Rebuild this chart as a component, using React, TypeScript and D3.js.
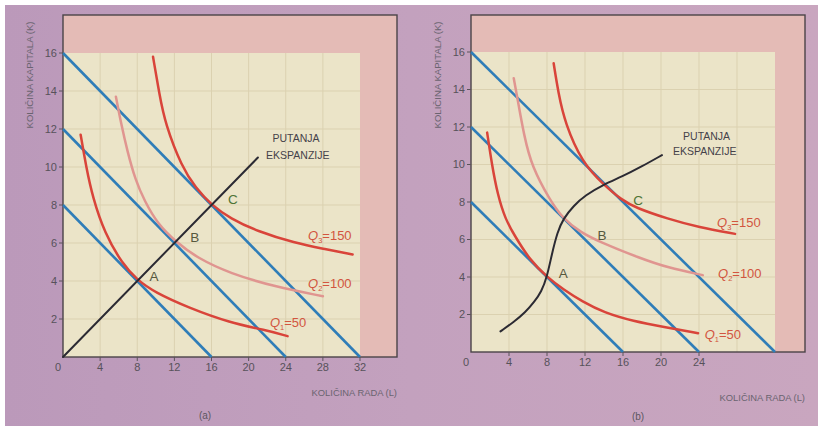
import React from 'react';
import * as d3 from 'd3';

// ---- data ----
const yTicks = [2, 4, 6, 8, 10, 12, 14, 16];
const xTicksA = [0, 4, 8, 12, 16, 20, 24, 28, 32];
const xTicksB = [0, 4, 8, 12, 16, 20, 24];
const gridX = [4, 8, 12, 16, 20, 24, 28];
const gridY = [2, 4, 6, 8, 10, 12, 14];
const isocostK = [8, 12, 16];
const isocostL = [16, 24, 32];

const q1A: [number, number][] = [[1.9, 11.7], [2.5, 10], [3.2, 8.4], [4.5, 6.5], [6.4, 4.9], [8, 4.05], [9.9, 3.4], [13.5, 2.6], [18, 1.8], [21.8, 1.42], [24.2, 1.1]];
const q2A: [number, number][] = [[5.7, 13.7], [6.3, 12.2], [6.9, 10.9], [7.8, 9.3], [8.8, 8.2], [10.2, 7.0], [12.2, 6.05], [14.5, 5.2], [18, 4.4], [22.8, 3.7], [28, 3.2]];
const q3A: [number, number][] = [[9.7, 15.8], [10.4, 13.8], [11, 12.3], [12.8, 10], [14.3, 8.9], [16, 8], [18, 7.3], [21, 6.6], [25, 6.0], [28, 5.7], [31.2, 5.4]];
const expA: [number, number][] = [[0, 0], [21, 10.5]];

const q1B: [number, number][] = [[1.7, 11.7], [2.2, 10], [2.8, 8.4], [3.6, 7.1], [4.6, 6.2], [6.2, 4.9], [8, 4.0], [9.8, 3.3], [11.7, 2.7], [14, 2.1], [17, 1.65], [20.7, 1.3], [23.9, 1.0]];
const q2B: [number, number][] = [[4.5, 14.6], [4.9, 13.5], [5.6, 11.5], [6.4, 9.9], [8.3, 8.1], [9.7, 7.1], [11.5, 6.4], [13.4, 5.9], [17.8, 5.0], [20.7, 4.5], [24.4, 4.1]];
const q3B: [number, number][] = [[8.7, 15.4], [9.2, 13.8], [9.9, 12.2], [11.7, 10.1], [14, 8.9], [15.9, 8.1], [17.3, 7.7], [20.7, 7.1], [24, 6.65], [27.8, 6.3]];
const expB: [number, number][] = [[3.1, 1.1], [4.5, 1.6], [5.7, 2.1], [6.7, 2.7], [7.4, 3.2], [8, 4], [8.5, 5.2], [9.1, 6.4], [9.7, 7.1], [10.8, 7.8], [12, 8.35], [14, 8.95], [15.9, 9.35], [18, 9.9], [20.1, 10.5]];

const pointLabels = ['A', 'B', 'C'];
const pointPosA: [number, number][] = [[9.8, 4.26], [14.2, 6.3], [18.3, 8.3]];
const pointPosB: [number, number][] = [[9.7, 4.2], [13.8, 6.2], [17.6, 8.1]];
const qSubs = ['1', '2', '3'];
const qValues = ['50', '100', '150'];
const qPosA: [number, number][] = [[22.3, 1.8], [26.4, 3.85], [26.4, 6.4]];
const qPosB: [number, number][] = [[24.6, 0.96], [26, 4.2], [25.9, 6.9]];
const pathTitle = ['PUTANJA', 'EKSPANZIJE'];
const pathTitlePosA: [number, number][] = [[25.1, 11.5], [25.3, 10.6]];
const pathTitlePosB: [number, number][] = [[24.8, 11.5], [24.6, 10.7]];

const FONT = 'Liberation Sans, Arial, Helvetica, sans-serif';
const BLUE = '#2f7db8';
const RED = '#d9443a';
const PINK = '#e09590';
const BLACK = '#2b2a33';
const LABEL = '#d2553f';

type Pt = [number, number];

interface PanelProps {
  frameLeft: number; frameRight: number; frameTop: number;
  px0: number; px32: number; py0: number; py16: number;
  xTicks: number[];
  q: Pt[][];
  exp: Pt[];
  expCurve: boolean;
  pointPos: Pt[];
  qPos: Pt[];
  titlePos: Pt[];
  yTitleX: number;
  xTitleRight: number; xTitleY: number;
  caption: string; captionX: number; captionY: number;
}

function Panel(p: PanelProps) {
  const x = d3.scaleLinear().domain([0, 32]).range([p.px0, p.px32]);
  const y = d3.scaleLinear().domain([0, 16]).range([p.py0, p.py16]);
  const line = d3.line<Pt>().x(d => x(d[0])).y(d => y(d[1])).curve(d3.curveBasis);
  const straight = d3.line<Pt>().x(d => x(d[0])).y(d => y(d[1]));
  const qColors = [RED, PINK, RED];
  return (
    <g>
      <rect x={p.frameLeft} y={p.frameTop} width={p.frameRight - p.frameLeft} height={p.py0 - p.frameTop} fill="#e4bbb6" />
      <rect x={x(0)} y={y(16)} width={x(32) - x(0)} height={y(0) - y(16)} fill="#ebe4c8" />
      {gridX.map(v => <line key={'gx' + v} x1={x(v)} x2={x(v)} y1={y(0)} y2={y(16)} stroke="#dbd1b0" strokeWidth={1} />)}
      {gridY.map(v => <line key={'gy' + v} x1={x(0)} x2={x(32)} y1={y(v)} y2={y(v)} stroke="#dbd1b0" strokeWidth={1} />)}
      {/* frame */}
      <rect x={p.frameLeft} y={p.frameTop} width={p.frameRight - p.frameLeft} height={p.py0 - p.frameTop} fill="none" stroke="#4a4448" strokeWidth={1.4} />
      {/* isocost lines */}
      {isocostK.map((k, i) => (
        <path key={'ic' + i} d={straight([[0, k], [isocostL[i], 0]]) || ''} stroke={BLUE} strokeWidth={2.6} fill="none" />
      ))}
      {/* isoquants */}
      {p.q.map((pts, i) => (
        <path key={'q' + i} d={line(pts) || ''} stroke={qColors[i]} strokeWidth={2.5} fill="none" strokeLinecap="round" />
      ))}
      {/* expansion path */}
      <path d={(p.expCurve ? line(p.exp) : straight(p.exp)) || ''} stroke={BLACK} strokeWidth={2} fill="none" strokeLinecap="round" />
      {/* axes ticks */}
      {yTicks.map(v => (
        <g key={'yt' + v}>
          <line x1={p.px0 - 4} x2={p.px0} y1={y(v)} y2={y(v)} stroke="#5a545a" strokeWidth={1} />
          <text x={p.px0 - 6} y={y(v)} dy="0.35em" textAnchor="end" fontSize={11} fill="#57525a" fontFamily={FONT}>{v}</text>
        </g>
      ))}
      {p.xTicks.map(v => (
        <g key={'xt' + v}>
          {v > 0 && <line x1={x(v)} x2={x(v)} y1={y(0)} y2={y(0) + 4} stroke="#5a545a" strokeWidth={1} />}
          <text x={v === 0 ? x(v) - 5 : x(v)} y={y(0) + 14} textAnchor="middle" fontSize={11} fill="#57525a" fontFamily={FONT}>{v}</text>
        </g>
      ))}
      {/* point labels */}
      {pointLabels.map((s, i) => (
        <text key={'pl' + s} x={x(p.pointPos[i][0])} y={y(p.pointPos[i][1])} dy="0.35em" textAnchor="middle" fontSize={13.5} fill={i === 2 ? '#4e7436' : '#56583e'} fontFamily={FONT}>{s}</text>
      ))}
      {/* Q labels */}
      {qSubs.map((s, i) => (
        <text key={'ql' + s} x={x(p.qPos[i][0])} y={y(p.qPos[i][1])} dy="0.35em" fontSize={13} fill={LABEL} fontFamily={FONT}>
          <tspan fontStyle="italic">Q</tspan>
          <tspan fontSize={7.5} dy={3}>{s}</tspan>
          <tspan dy={-3}>={qValues[i]}</tspan>
        </text>
      ))}
      {pathTitle.map((s, i) => (
        <text key={'pt' + i} x={x(p.titlePos[i][0])} y={y(p.titlePos[i][1])} dy="0.35em" textAnchor="middle" fontSize={10.5} fill="#45424a" fontFamily={FONT}>{s}</text>
      ))}
      <text transform={`translate(${p.yTitleX},75) rotate(-90)`} textAnchor="middle" dy="0.35em" fontSize={9.6} fill="#6a6470" fontFamily={FONT}>KOLIČINA KAPITALA (K)</text>
      <text x={p.xTitleRight} y={p.xTitleY} textAnchor="end" dy="0.35em" fontSize={9.4} fill="#6a6470" fontFamily={FONT}>KOLIČINA RADA (L)</text>
      <text x={p.captionX} y={p.captionY} textAnchor="middle" dy="0.35em" fontSize={10} fill="#5c5660" fontFamily={FONT}>{p.caption}</text>
    </g>
  );
}

export default function App() {
  return (
    <svg width={818} height={426} style={{ position: 'fixed', left: 0, top: 0 }}>
      <defs>
        <linearGradient id="bg" x1="0" x2="1" y1="0" y2="0">
          <stop offset="0" stopColor="#bb99ba" />
          <stop offset="0.5" stopColor="#c3a1be" />
          <stop offset="1" stopColor="#c9a6bf" />
        </linearGradient>
      </defs>
      <rect x={0} y={0} width={818} height={426} fill="#ffffff" />
      <rect x={5} y={5} width={813} height={421} fill="url(#bg)" />
      <Panel frameLeft={63} frameRight={397} frameTop={15} px0={63} px32={360} py0={357} py16={53}
        xTicks={xTicksA} q={[q1A, q2A, q3A]} exp={expA} expCurve={false}
        pointPos={pointPosA} qPos={qPosA} titlePos={pathTitlePosA}
        yTitleX={30} xTitleRight={397} xTitleY={393} caption="(a)" captionX={205} captionY={415} />
      <Panel frameLeft={471} frameRight={805} frameTop={15} px0={471} px32={775} py0={352} py16={52}
        xTicks={xTicksB} q={[q1B, q2B, q3B]} exp={expB} expCurve={true}
        pointPos={pointPosB} qPos={qPosB} titlePos={pathTitlePosB}
        yTitleX={438} xTitleRight={805} xTitleY={398} caption="(b)" captionX={638} captionY={416} />
    </svg>
  );
}
